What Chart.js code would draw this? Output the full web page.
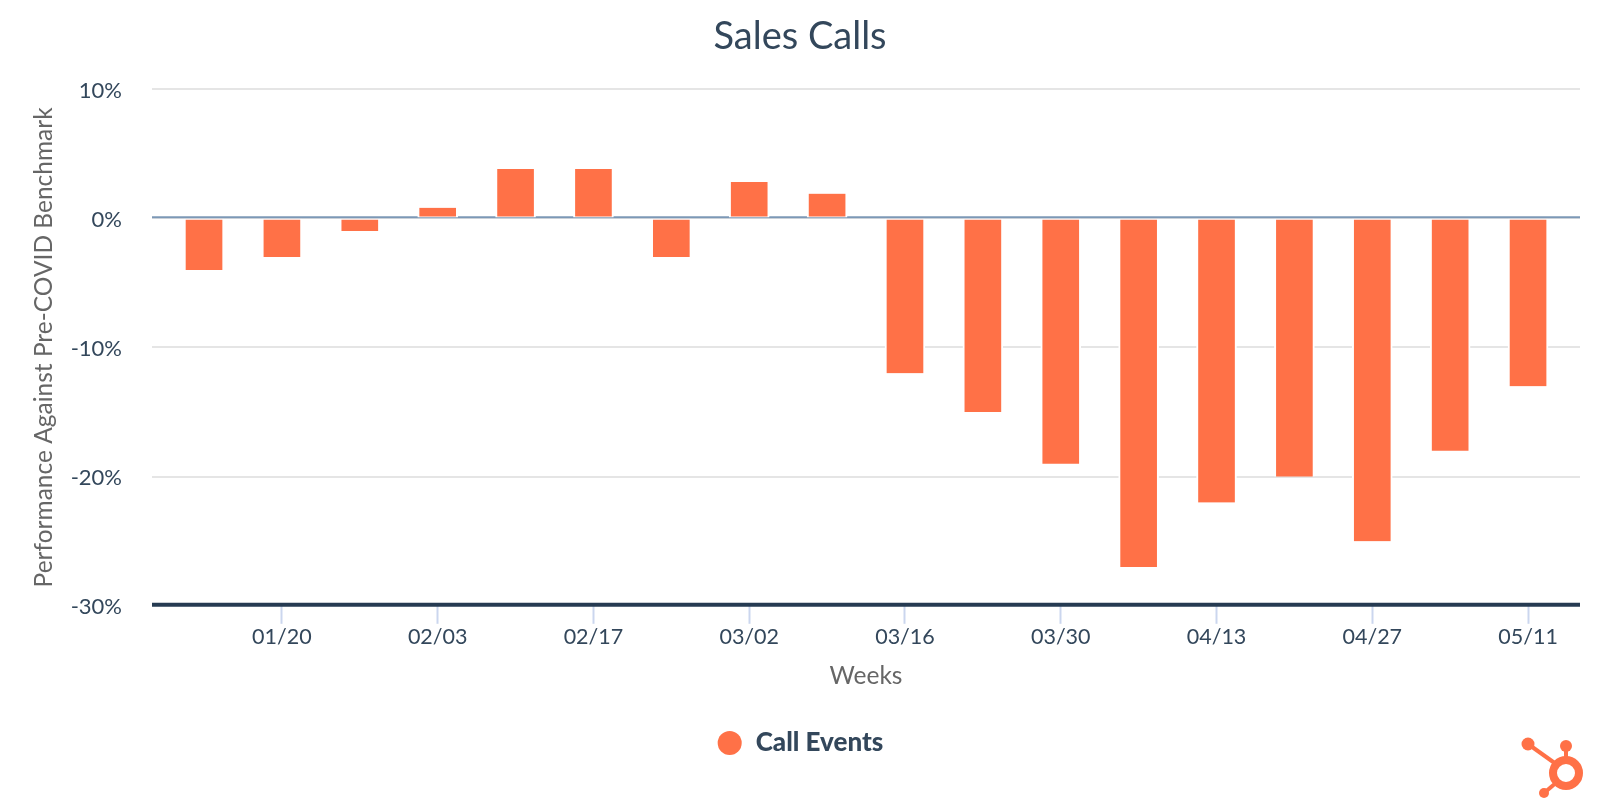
<!DOCTYPE html>
<html>
<head>
<meta charset="utf-8">
<title>Sales Calls</title>
<script src="https://cdn.jsdelivr.net/npm/chart.js@4"></script>
<style>
  html, body { margin: 0; padding: 0; background: #fff; overflow: hidden; }
  #wrap { position: relative; width: 1600px; height: 800px; }
  #logo { position: absolute; left: 1500px; top: 720px; }
</style>
</head>
<body>
<div id="wrap">
  <canvas id="salesCalls" width="1600" height="800"></canvas>
  <svg id="logo" width="100" height="80" viewBox="0 0 100 80">
    <g fill="none" stroke="#ff7147">
      <circle cx="66" cy="53" r="13" stroke-width="8"/>
      <path d="M28 24 L56 44" stroke-width="4"/>
      <path d="M66 26 L66 40" stroke-width="4"/>
      <path d="M44 73 L57 62" stroke-width="4"/>
    </g>
    <g fill="#ff7147">
      <circle cx="28" cy="24" r="6.5"/>
      <circle cx="66" cy="26" r="6"/>
      <circle cx="44" cy="73" r="5"/>
    </g>
  </svg>
</div>

<script>
const weeks = ["01/13", "01/20", "01/27", "02/03", "02/10", "02/17", "02/24", "03/02", "03/09",
  "03/16", "03/23", "03/30", "04/06", "04/13", "04/20", "04/27", "05/04", "05/11"];
const callEvents = [-4, -3, -1, 0.8, 3.8, 3.8, -3, 2.8, 1.9, -12, -15, -19, -27, -22, -20, -25, -18, -13];
const labelledWeeks = ["01/20", "02/03", "02/17", "03/02", "03/16", "03/30", "04/13", "04/27", "05/11"];

const navy = "#33475b";
const grey = "#666666";
const orange = "#ff7147";
const fontFamily = "Lato, 'Open Sans', sans-serif";

function drawHorizontal(chart, y, color, width) {
  const { ctx, chartArea } = chart;
  ctx.save();
  ctx.strokeStyle = color;
  ctx.lineWidth = width;
  ctx.beginPath();
  ctx.moveTo(chartArea.left, y);
  ctx.lineTo(chartArea.right, y);
  ctx.stroke();
  ctx.restore();
}

// blue zero line sits just above the grey gridline, under the bars.
// dark axis line is drawn here too so it stops at the plot edges
const axisLines = {
  id: "axisLines",
  beforeDatasetsDraw(chart) {
    drawHorizontal(chart, chart.scales.y.getPixelForValue(0) - 1, "#7c98b6", 2);
    drawHorizontal(chart, chart.scales.y.getPixelForValue(-30) - 1, "#263b52", 4);
  }
};

new Chart(document.getElementById("salesCalls"), {
  type: "bar",
  plugins: [axisLines],
  data: {
    datasets: [
      {
        label: "Call Events",
        data: callEvents.map((value, index) => ({ x: index, y: value })),
        backgroundColor: orange,
        borderColor: "#ffffff",
        borderWidth: { left: 2, right: 2, top: 1, bottom: 1 },
        borderSkipped: "end",
        barThickness: 40
      }
    ]
  },
  options: {
    responsive: false,
    animation: false,
    layout: { padding: { left: 20, right: 20, bottom: 34 } },
    plugins: {
      tooltip: { enabled: false },
      title: {
        display: true,
        text: "Sales Calls",
        color: navy,
        font: { family: fontFamily, size: 38, weight: "400" },
        padding: { top: 14, bottom: 29.4 }
      },
      legend: {
        position: "bottom",
        onClick: null,
        labels: {
          usePointStyle: true,
          pointStyle: "circle",
          boxHeight: 17,
          boxWidth: 26,
          padding: 14,
          color: navy,
          font: { family: fontFamily, size: 26, weight: "900" },
          generateLabels() {
            return [{ text: "Call Events", fillStyle: orange, strokeStyle: orange, fontColor: navy, lineWidth: 0, pointStyle: "circle", datasetIndex: 0 }];
          }
        }
      }
    },
    scales: {
      x: {
        type: "linear",
        min: -0.668,
        max: 17.667,
        offset: false,
        afterBuildTicks(axis) {
          axis.ticks = labelledWeeks.map((label) => ({ value: weeks.indexOf(label) }));
        },
        border: { display: false },
        grid: { offset: false, drawOnChartArea: false, color: "#cbd6ee", tickColor: "#cbd6ee", tickWidth: 2, tickLength: 18 },
        ticks: {
          autoSkip: false,
          maxRotation: 0,
          padding: 0,
          color: navy,
          font: { family: fontFamily, size: 21.5 },
          callback: (value) => weeks[value]
        },
        title: {
          display: true,
          text: "Weeks",
          color: grey,
          font: { family: fontFamily, size: 24.5 },
          padding: { top: 12, bottom: 25 }
        }
      },
      y: {
        min: -30,
        max: 10,
        afterFit(axis) {
          axis.width = 132;
        },
        border: { display: false },
        grid: {
          color: (context) => (context.tick.value === -30 ? "transparent" : "#e5e5e5"),
          lineWidth: 2,
          drawTicks: false
        },
        ticks: {
          stepSize: 10,
          padding: 30,
          labelOffset: 1.5,
          color: navy,
          font: { family: fontFamily, size: 22 },
          callback: (value) => value + "%"
        },
        title: {
          display: true,
          text: "Performance Against Pre-COVID Benchmark",
          color: grey,
          font: { family: fontFamily, size: 24.5 },
          padding: { top: 9, bottom: 0 }
        }
      }
    }
  }
});
</script>
</body>
</html>
